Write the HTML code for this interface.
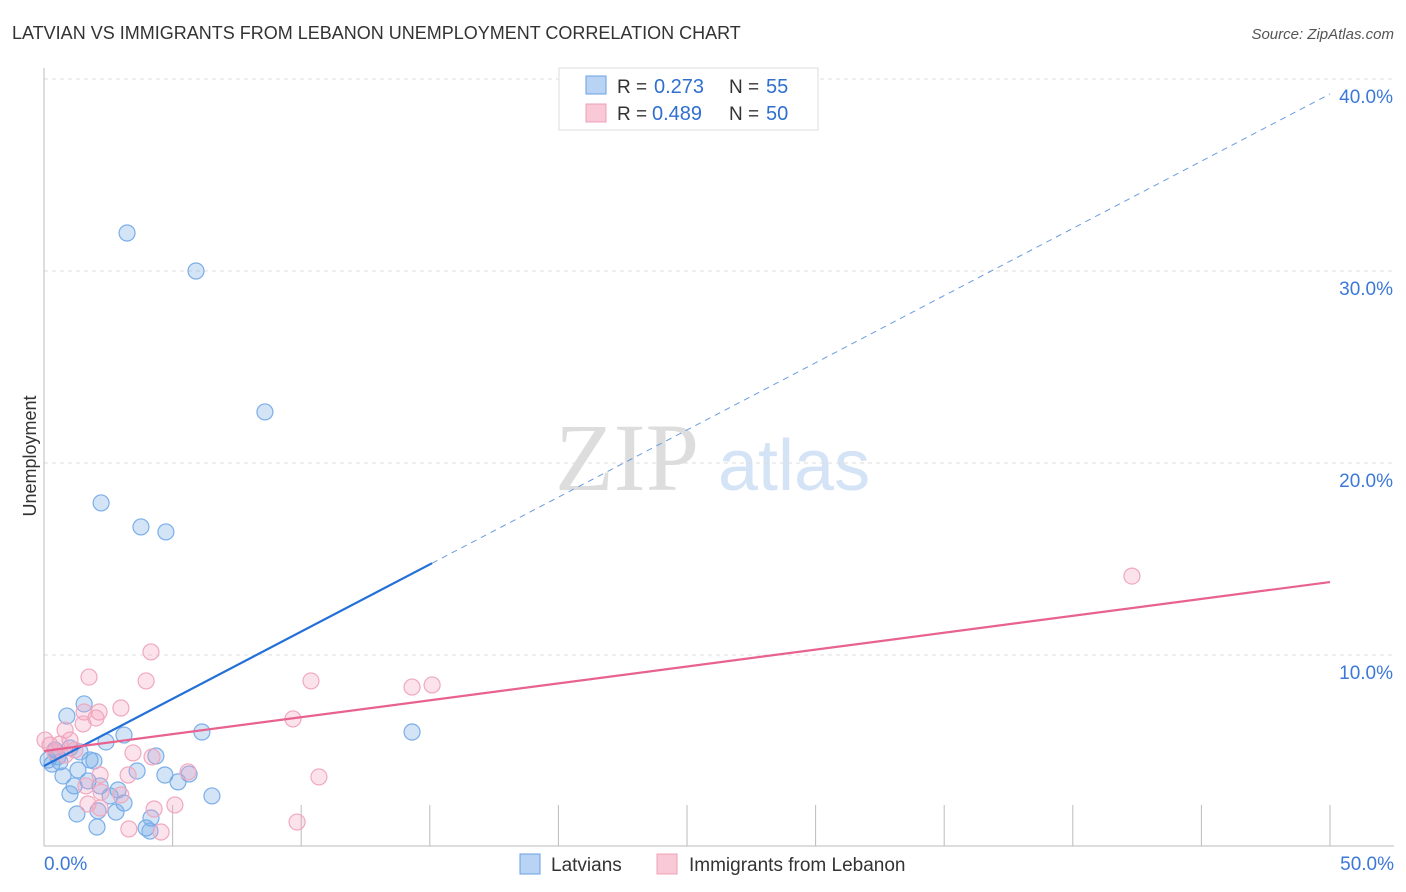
<!DOCTYPE html>
<html><head><meta charset="utf-8"><style>
body{margin:0;background:#fff;font-family:"Liberation Sans",sans-serif}
svg{display:block}
</style></head><body>
<svg id="c" width="1406" height="892">
<text x="12" y="39" font-size="18" fill="#333">LATVIAN VS IMMIGRANTS FROM LEBANON UNEMPLOYMENT CORRELATION CHART</text>
<text x="1394" y="39" font-size="15" fill="#555" font-style="italic" text-anchor="end">Source: ZipAtlas.com</text>
<text x="36" y="456" font-size="18" fill="#333" transform="rotate(-90 36 456)" text-anchor="middle">Unemployment</text>
<text x="555" y="490" font-size="96" fill="#ddd" font-family="Liberation Serif,serif">ZIP</text>
<text x="718" y="490" font-size="72" fill="#d4e3f5">atlas</text>
<g id="grid"></g><g id="pts"></g><g id="lines"></g>
<g>
<rect x="559" y="68" width="259" height="62" fill="#fff" stroke="#ddd"/>
<rect x="586" y="76" width="20" height="18" fill="#b8d3f3" stroke="#6aa2e3"/>
<rect x="586" y="104" width="20" height="18" fill="#f9c9d8" stroke="#f0a0b8"/>
<text x="617" y="93" font-size="19" fill="#333">R =</text>
<text x="654" y="93" font-size="20" fill="#2f6fd0">0.273</text>
<text x="729" y="93" font-size="19" fill="#333">N =</text>
<text x="766" y="93" font-size="20" fill="#2f6fd0">55</text>
<text x="617" y="120" font-size="19" fill="#333">R =</text>
<text x="652" y="120" font-size="20" fill="#2f6fd0">0.489</text>
<text x="729" y="120" font-size="19" fill="#333">N =</text>
<text x="766" y="120" font-size="20" fill="#2f6fd0">50</text>
</g>
<g>
<rect x="520" y="854" width="20" height="20" fill="#b8d3f3" stroke="#6aa2e3"/>
<text x="551" y="871" font-size="19" fill="#333">Latvians</text>
<rect x="657" y="854" width="20" height="20" fill="#f9c9d8" stroke="#f0a0b8"/>
<text x="689" y="871" font-size="19" fill="#333">Immigrants from Lebanon</text>
</g>
</svg>
<script>
const yTicks=[10,20,30,40];
const yTickLabels=["10.0%","20.0%","30.0%","40.0%"];
const xTicks=[0,5,10,15,20,25,30,35,40,45,50];
const blueX=[3.23,5.91,8.59,2.22,3.77,4.74,1.56,0.89,3.11,4.35,2.41,6.14,14.31,1.79,1.94,0.62,0.31,1.32,3.62,4.70,5.64,5.21,0.74,1.71,1.17,2.18,2.88,1.01,2.57,3.11,6.53,2.10,1.28,2.80,2.06,3.97,4.16,4.12,0.54,0.16,0.43,1.01,1.40];
const blueY=[31.98,30.0,22.66,17.92,16.67,16.41,7.45,6.82,5.83,4.74,5.47,5.99,5.99,4.53,4.48,4.43,4.32,4.01,3.96,3.75,3.80,3.39,3.70,3.44,3.18,3.18,2.97,2.76,2.66,2.29,2.66,1.88,1.72,1.82,1.04,0.99,1.51,0.83,4.69,4.53,5.05,5.16,4.95];
const pinkX=[42.30,4.16,1.75,3.97,10.38,14.31,15.09,2.99,9.68,2.14,2.02,1.56,1.52,0.82,3.46,4.20,5.60,10.69,3.27,2.18,1.63,2.22,2.99,1.71,4.28,5.09,2.18,9.84,3.30,4.55,0.23,0.62,1.01,0.43,0.04,1.20,0.82];
const pinkY=[14.11,10.16,8.85,8.65,8.65,8.33,8.44,7.24,6.67,7.03,6.72,7.03,6.41,6.09,4.90,4.69,3.91,3.65,3.75,3.75,3.18,2.86,2.71,2.24,1.98,2.19,2.03,1.30,0.94,0.78,5.31,5.36,5.57,4.95,5.57,5.05,4.79];
const blueFit=[4.22,0.70];
const pinkFit=[5.0,0.176];
const NS='http://www.w3.org/2000/svg';
const sx=v=>44+v*25.72, sy=v=>847-v*19.2;
function mk(p,t,a){const e=document.createElementNS(NS,t);for(const k in a)e.setAttribute(k,a[k]);p.appendChild(e);return e;}
const G=document.getElementById('grid'),P=document.getElementById('pts'),L=document.getElementById('lines');
yTicks.forEach((v,i)=>{
 const g=mk(G,'line',{x1:44,x2:1394,y1:sy(v),y2:sy(v),stroke:'#ddd','stroke-dasharray':'4,4'});
 
 
 const t=mk(G,'text',{x:1393,y:sy(v)+24,'font-size':19,fill:'#3b78d8','text-anchor':'end'});
 t.textContent=yTickLabels[i];
 
 
});
mk(G,'line',{x1:44,x2:44,y1:68,y2:846,stroke:'#bbb'});
mk(G,'line',{x1:44,x2:1394,y1:846,y2:846,stroke:'#bbb'});
xTicks.forEach(v=>{const l=mk(G,'line',{x1:sx(v),x2:sx(v),y1:805,y2:846,stroke:'#bbb'});
 
 });
let t=mk(G,'text',{x:44,y:870,'font-size':19,fill:'#3b78d8'});t.textContent='0.0%';


t=mk(G,'text',{x:1394,y:870,'font-size':19,fill:'#3b78d8','text-anchor':'end'});t.textContent='50.0%';


blueX.forEach((x,i)=>{const c=mk(P,'circle',{cx:sx(x),cy:sy(blueY[i]),r:8,fill:'rgba(110,165,230,0.3)',stroke:'#7aaee8','stroke-width':1.2});
 
 });
pinkX.forEach((x,i)=>{const c=mk(P,'circle',{cx:sx(x),cy:sy(pinkY[i]),r:8,fill:'rgba(245,160,190,0.3)',stroke:'#f0a8be','stroke-width':1.2});
 
 });
let l=mk(L,'line',{x1:sx(0),y1:sy(blueFit[0]),x2:sx(15.09),y2:sy(blueFit[0]+blueFit[1]*15.09),stroke:'#2370d8','stroke-width':2.2});


l=mk(L,'line',{x1:sx(15.09),y1:sy(blueFit[0]+blueFit[1]*15.09),x2:sx(50),y2:sy(blueFit[0]+blueFit[1]*50),stroke:'#6a9be0','stroke-width':1,'stroke-dasharray':'6,5'});


l=mk(L,'line',{x1:sx(0),y1:sy(pinkFit[0]),x2:sx(50),y2:sy(pinkFit[0]+pinkFit[1]*50),stroke:'#e8628f','stroke-width':2.2});


</script>
</body></html>
